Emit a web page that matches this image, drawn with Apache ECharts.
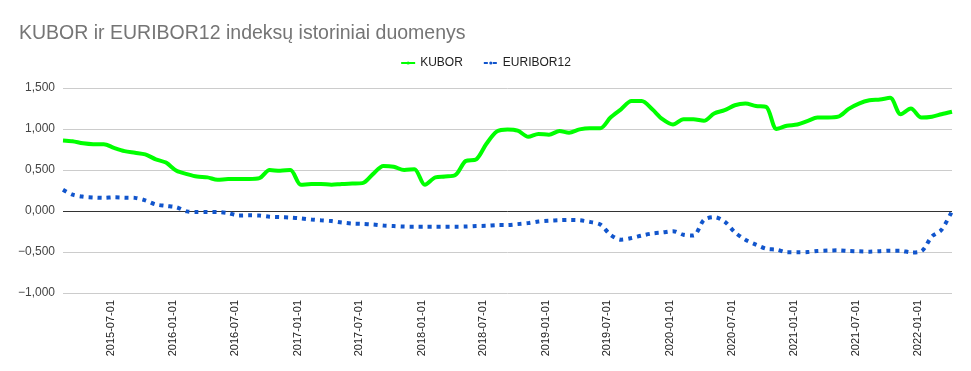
<!DOCTYPE html>
<html>
<head>
<meta charset="utf-8">
<script src="https://cdn.jsdelivr.net/npm/echarts@6/dist/echarts.min.js"></script>
<style>
html,body{margin:0;padding:0;background:#fff;}
#c{width:971px;height:371px;}
</style>
</head>
<body>
<div id="c"></div>
<script>
const months = [
'2015-02','2015-03','2015-04','2015-05','2015-06','2015-07','2015-08','2015-09','2015-10','2015-11','2015-12',
'2016-01','2016-02','2016-03','2016-04','2016-05','2016-06','2016-07','2016-08','2016-09','2016-10','2016-11','2016-12',
'2017-01','2017-02','2017-03','2017-04','2017-05','2017-06','2017-07','2017-08','2017-09','2017-10','2017-11','2017-12',
'2018-01','2018-02','2018-03','2018-04','2018-05','2018-06','2018-07','2018-08','2018-09','2018-10','2018-11','2018-12',
'2019-01','2019-02','2019-03','2019-04','2019-05','2019-06','2019-07','2019-08','2019-09','2019-10','2019-11','2019-12',
'2020-01','2020-02','2020-03','2020-04','2020-05','2020-06','2020-07','2020-08','2020-09','2020-10','2020-11','2020-12',
'2021-01','2021-02','2021-03','2021-04','2021-05','2021-06','2021-07','2021-08','2021-09','2021-10','2021-11','2021-12',
'2022-01','2022-02','2022-03','2022-04'
];
const kubor = [
0.86,0.85,0.825,0.815,0.815,0.77,0.73,0.71,0.69,0.63,0.59,
0.49,0.45,0.42,0.41,0.38,0.39,0.39,0.39,0.40,0.50,0.49,0.50,
0.32,0.33,0.33,0.32,0.33,0.335,0.34,0.45,0.55,0.54,0.50,0.51,
0.32,0.41,0.42,0.44,0.61,0.63,0.82,0.97,0.995,0.98,0.905,0.94,
0.93,0.975,0.955,0.995,1.01,1.01,1.14,1.24,1.34,1.34,1.24,1.12,
1.055,1.12,1.12,1.10,1.19,1.23,1.29,1.31,1.28,1.27,1.00,1.04,
1.055,1.10,1.14,1.14,1.15,1.245,1.31,1.35,1.36,1.38,1.18,1.25,
1.14,1.15,1.18,1.21
];
const euribor = [
0.26,0.20,0.175,0.165,0.16,0.167,0.163,0.16,0.13,0.08,0.062,
0.045,-0.005,-0.012,-0.012,-0.012,-0.025,-0.055,-0.053,-0.055,-0.07,-0.075,-0.08,
-0.09,-0.104,-0.114,-0.123,-0.14,-0.153,-0.157,-0.165,-0.178,-0.184,-0.19,-0.191,
-0.191,-0.191,-0.191,-0.191,-0.19,-0.183,-0.18,-0.172,-0.171,-0.16,-0.148,-0.128,
-0.118,-0.112,-0.11,-0.113,-0.133,-0.165,-0.29,-0.35,-0.33,-0.30,-0.274,-0.262,
-0.246,-0.29,-0.30,-0.11,-0.075,-0.13,-0.26,-0.35,-0.41,-0.46,-0.472,-0.503,
-0.504,-0.50,-0.488,-0.482,-0.48,-0.488,-0.492,-0.496,-0.49,-0.484,-0.484,-0.505,
-0.49,-0.31,-0.23,0.0
];
const tickLabels = ['2015-07-01','2016-01-01','2016-07-01','2017-01-01','2017-07-01','2018-01-01','2018-07-01',
'2019-01-01','2019-07-01','2020-01-01','2020-07-01','2021-01-01','2021-07-01','2022-01-01'];
const seriesNames = ['KUBOR','EURIBOR12'];
const titleText = 'KUBOR ir EURIBOR12 indeksų istoriniai duomenys';

// x values: days since 2015-01-01 (UTC)
const BASE = Date.UTC(2015,0,1);
function dayNum(s){ const p = s.split('-').map(Number); return Math.round((Date.UTC(p[0], p[1]-1, p[2] || 10) - BASE)/86400000); }
function pad(n){ return (n<10?'0':'')+n; }
function fmtDate(v){ const d = new Date(BASE + Math.round(v)*86400000); return d.getUTCFullYear()+'-'+pad(d.getUTCMonth()+1)+'-'+pad(d.getUTCDate()); }
function fmtNum(v){ return v.toFixed(3).replace('.', ',').replace('-', '\u2212'); }

const xs = months.map(m => dayNum(m));
const chart = echarts.init(document.getElementById('c'), null, {renderer:'canvas'});
chart.setOption({
  animation:false,
  backgroundColor:'#ffffff',
  title:{ text:titleText, left:14, top:19, textStyle:{ fontFamily:'Liberation Sans, Arial', fontSize:19.5, fontWeight:'normal', color:'#757575' } },
  legend:{ top:52, left:'center', itemWidth:14, itemHeight:4, itemGap:20,
    textStyle:{ fontFamily:'Liberation Sans, Arial', fontSize:12, color:'#222' },
    data: seriesNames },
  grid:{ left:63, right:19, top:88, bottom:78 },
  xAxis:{ type:'value', min:xs[0], max:xs[xs.length-1],
    axisLine:{show:false}, axisTick:{show:false}, splitLine:{show:false},
    axisLabel:{ customValues: tickLabels.map(s=>dayNum(s)), rotate:90, margin:7,
      fontFamily:'Liberation Sans, Arial', fontSize:11, color:'#222',
      formatter:(v)=>fmtDate(v), hideOverlap:false } },
  yAxis:{ type:'value', min:-1, max:1.5, interval:0.5,
    axisLine:{show:false}, axisTick:{show:false},
    splitLine:{ lineStyle:{ color:'#cccccc', width:1 } },
    axisLabel:{ fontFamily:'Liberation Sans, Arial', fontSize:12, color:'#444', margin:8, formatter:fmtNum } },
  series:[
    { name:seriesNames[0], type:'line', data: xs.map((x,i)=>[x,kubor[i]]), smooth:0.3, showSymbol:false, symbol:'none',
      lineStyle:{ color:'#00ff00', width:4 }, itemStyle:{color:'#00ff00'}, z:3,
      markLine:{ silent:true, symbol:'none', label:{show:false}, data:[{yAxis:0}], lineStyle:{ color:'#333333', width:1, type:'solid' }, z:1 } },
    { name:seriesNames[1], type:'line', data: xs.map((x,i)=>[x,euribor[i]]), smooth:0.3, showSymbol:false, symbol:'none',
      lineStyle:{ color:'#1155cc', width:4, type:[4,5] }, itemStyle:{color:'#1155cc'}, z:4 }
  ]
});
</script>
</body>
</html>
